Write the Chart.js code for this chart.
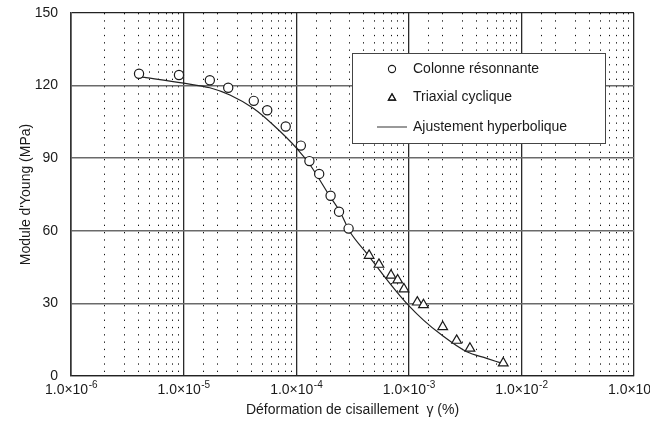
<!DOCTYPE html>
<html>
<head>
<meta charset="utf-8">
<script src="https://cdn.jsdelivr.net/npm/chart.js@4"></script>
<style>
  html, body { margin: 0; padding: 0; background: #fff; overflow: hidden; }
  #wrap { position: relative; width: 650px; height: 433px; }
</style>
</head>
<body>
<div id="wrap"><canvas id="c" width="650" height="433"></canvas></div>
<script>
// ---- Data ----
const circleStrain  = [4.02e-6, 9.1e-6, 1.71e-5, 2.49e-5, 4.2e-5, 5.53e-5, 8.07e-5, 1.10e-4, 1.31e-4, 1.60e-4, 2.02e-4, 2.40e-4, 2.92e-4];
const circleModulus = [124.9, 124.4, 122.2, 119.1, 113.7, 109.8, 103.1, 95.2, 88.8, 83.5, 74.5, 67.9, 60.9];

const triStrain  = [4.44e-4, 5.43e-4, 6.95e-4, 7.96e-4, 9.06e-4, 1.19e-3, 1.35e-3, 2.0e-3, 2.66e-3, 3.49e-3, 6.9e-3];
const triModulus = [49.8, 46.1, 41.6, 39.6, 35.9, 30.5, 29.4, 20.3, 14.7, 11.4, 5.3];

const fitStrain  = [4.1e-6, 1.0e-5, 1.71e-5, 2.58e-5, 4.16e-5, 6.26e-5, 1.01e-4, 1.33e-4, 2.0e-4, 2.45e-4, 3.0e-4, 4.23e-4, 5.94e-4, 7.81e-4, 9.9e-4, 1.35e-3, 1.96e-3, 3.27e-3, 4.92e-3, 6.45e-3];
const fitModulus = [123.7, 121.0, 119.1, 116.1, 110.6, 103.7, 94.1, 87.2, 74.1, 67.9, 59.6, 50.7, 41.7, 34.8, 29.3, 23.1, 16.9, 10.0, 7.3, 5.5];

const seriesLabels = ['Colonne résonnante', 'Triaxial cyclique', 'Ajustement hyperbolique'];
const decadeExponents = [-6, -5, -4, -3, -2, -1];
const decadeBase = '1.0×10';
const decadeExpLabels = ['-6', '-5', '-4', '-3', '-2', '-1'];
const yTickValues = [0, 30, 60, 90, 120, 150];
const xTitle = 'Déformation de cisaillement  γ (%)';
const yTitle = "Module d'Young (MPa)";

// ---- Build datasets ----
const toPts = (xs, ys) => xs.map((x, i) => ({ x: x, y: ys[i] }));

const FONT = "'Liberation Sans', Arial, Helvetica, sans-serif";
const INK = '#1a1a1a';

function isDecade(v) {
  const l = Math.log10(v);
  return Math.abs(l - Math.round(l)) < 1e-6;
}

// Decade tick labels with a real superscript exponent, placed by the x scale
const decadeLabelPlugin = {
  id: 'decadeLabels',
  afterDraw(chart) {
    const { ctx } = chart;
    const xs = chart.scales.x;
    ctx.save();
    ctx.fillStyle = INK;
    ctx.textBaseline = 'alphabetic';
    ctx.textAlign = 'left';
    decadeExponents.forEach((e, i) => {
      const px = xs.getPixelForValue(Math.pow(10, e));
      ctx.font = '14px ' + FONT;
      const wb = ctx.measureText(decadeBase).width;
      ctx.font = '10px ' + FONT;
      const we = ctx.measureText(decadeExpLabels[i]).width;
      const x0 = px - (wb + we) / 2;
      const base = xs.top + 18;
      ctx.font = '14px ' + FONT;
      ctx.fillText(decadeBase, x0, base);
      ctx.font = '10px ' + FONT;
      ctx.fillText(decadeExpLabels[i], x0 + wb + 0.5, base - 6);
    });
    ctx.restore();
  }
};

const legendPlugin = {
  id: 'boxLegend',
  afterDatasetsDraw(chart) {
    const { ctx, chartArea: a } = chart;
    const bx = a.left + 281, by = a.top + 40, bw = 253, bh = 90;
    ctx.save();
    ctx.fillStyle = '#fff';
    ctx.fillRect(bx, by, bw, bh);
    ctx.strokeStyle = '#444';
    ctx.lineWidth = 1;
    ctx.strokeRect(bx + 0.5, by + 0.5, bw, bh);
    const rows = [16, 44, 74];
    const mx = bx + 40, tx = bx + 61;
    // circle marker
    ctx.strokeStyle = INK; ctx.lineWidth = 1.1;
    ctx.beginPath(); ctx.arc(mx, by + rows[0], 3.6, 0, Math.PI * 2); ctx.stroke();
    // triangle marker (outline only)
    ctx.fillStyle = '#fff';
    Chart.helpers.drawPoint(ctx, { pointStyle: 'triangle', radius: 4.2, rotation: 0, borderWidth: 1.1 }, mx, by + rows[1] + 1);
    ctx.stroke();
    // line sample
    ctx.strokeStyle = '#555'; ctx.lineWidth = 1.2;
    ctx.beginPath(); ctx.moveTo(bx + 25, by + rows[2]); ctx.lineTo(bx + 55, by + rows[2]); ctx.stroke();
    ctx.font = '14px ' + FONT;
    ctx.fillStyle = INK;
    ctx.textBaseline = 'middle';
    ctx.textAlign = 'left';
    seriesLabels.forEach((t, i) => ctx.fillText(t, tx, by + rows[i]));
    ctx.restore();
  }
};

new Chart(document.getElementById('c'), {
  type: 'scatter',
  data: {
    datasets: [
      {
        label: seriesLabels[0],
        data: toPts(circleStrain, circleModulus),
        pointStyle: 'circle',
        pointRadius: 4.6,
        borderColor: INK,
        backgroundColor: '#fff',
        borderWidth: 1.2,
        showLine: false,
        order: 1
      },
      {
        label: seriesLabels[1],
        data: toPts(triStrain, triModulus),
        pointStyle: 'triangle',
        pointRadius: 5.6,
        borderColor: INK,
        backgroundColor: '#fff',
        borderWidth: 1.2,
        showLine: false,
        order: 1
      },
      {
        label: seriesLabels[2],
        data: toPts(fitStrain, fitModulus),
        showLine: true,
        pointRadius: 0,
        borderColor: '#222',
        borderWidth: 1.2,
        cubicInterpolationMode: 'monotone',
        fill: false,
        order: 2
      }
    ]
  },
  options: {
    responsive: false,
    animation: false,
    devicePixelRatio: 1,
    layout: { padding: { top: 13, right: 16, left: 0, bottom: 0 } },
    plugins: {
      legend: { display: false },
      tooltip: { enabled: false }
    },
    scales: {
      x: {
        type: 'logarithmic',
        min: Math.pow(10, decadeExponents[0]),
        max: Math.pow(10, decadeExponents[decadeExponents.length - 1]),
        afterFit(s) { s.height = 57; s.paddingLeft = 0; s.paddingRight = 0; },
        ticks: {
          autoSkip: false,
          minRotation: 0,
          maxRotation: 0,
          padding: 6,
          color: INK,
          font: { family: FONT, size: 14 },
          callback() { return ''; }
        },
        grid: {
          drawTicks: false,
          color: (c) => (c.tick && isDecade(c.tick.value)) ? '#2a2a2a' : '#111',
          lineWidth: (c) => (c.tick && isDecade(c.tick.value)) ? 1.3 : 1
        },
        border: {
          display: true,
          color: '#222',
          width: 1.3,
          dash: (c) => (c.tick && !isDecade(c.tick.value)) ? [1.3, 6] : []
        },
        title: {
          display: true,
          text: xTitle,
          color: INK,
          font: { family: FONT, size: 14 },
          padding: { top: 0, bottom: 14 }
        }
      },
      y: {
        min: yTickValues[0],
        max: yTickValues[yTickValues.length - 1],
        afterFit(s) { s.width = 71; s.paddingTop = 0; s.paddingBottom = 0; },
        afterBuildTicks(s) { s.ticks = yTickValues.map(v => ({ value: v })); },
        ticks: {
          stepSize: 30,
          padding: 13,
          color: INK,
          font: { family: FONT, size: 14 }
        },
        grid: {
          drawTicks: false,
          color: (c) => (c.tick && (c.tick.value === 150 || c.tick.value === 0)) ? '#222' : '#6a6a6a',
          lineWidth: (c) => (c.tick && (c.tick.value === 150 || c.tick.value === 0)) ? 1.2 : 1.6
        },
        border: { display: true, color: '#333', width: 1.6 },
        title: {
          display: true,
          text: yTitle,
          color: INK,
          font: { family: FONT, size: 14 },
          padding: { top: 18, bottom: 0 }
        }
      }
    }
  },
  plugins: [legendPlugin, decadeLabelPlugin]
});
</script>
</body>
</html>
